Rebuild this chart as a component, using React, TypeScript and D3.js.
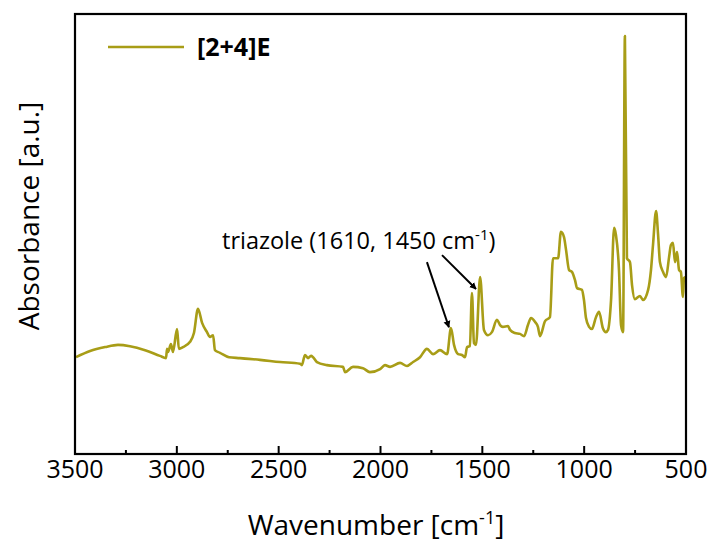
import React from "react";
import * as d3 from "d3";

const wavenumbers = [
  3495, 3426, 3352, 3289, 3230, 3156, 3083, 3053, 3048, 3043, 3029, 3019, 2999, 2990, 2970, 2935,
  2916, 2896, 2876, 2852, 2837, 2822, 2813, 2788, 2744, 2690, 2592, 2493, 2395, 2386, 2371, 2356,
  2341, 2331, 2312, 2263, 2184, 2174, 2135, 2086, 2052, 2002, 1978, 1953, 1904, 1870, 1840, 1806,
  1772, 1742, 1708, 1673, 1654, 1639, 1619, 1600, 1585, 1575, 1561, 1551, 1541, 1531, 1511, 1492,
  1472, 1453, 1428, 1413, 1399, 1374, 1364, 1340, 1315, 1295, 1276, 1261, 1241, 1227, 1217, 1192,
  1168, 1153, 1128, 1114, 1099, 1089, 1074, 1060, 1045, 1035, 1011, 1001, 991, 976, 962, 942,
  927, 908, 893, 883, 868, 853, 844, 829, 819, 809, 800, 790, 775, 765, 751, 726,
  711, 686, 672, 662, 647, 637, 628, 613, 598, 583, 574, 564, 554, 544, 534, 525,
  515, 510, 500,
];

const absorbance = [
  0.220, 0.234, 0.243, 0.248, 0.245, 0.236, 0.223, 0.218, 0.239, 0.232, 0.250, 0.232, 0.284, 0.239, 0.243, 0.255,
  0.275, 0.330, 0.298, 0.277, 0.266, 0.270, 0.236, 0.230, 0.220, 0.218, 0.214, 0.209, 0.205, 0.202, 0.225, 0.218,
  0.223, 0.220, 0.209, 0.202, 0.198, 0.186, 0.198, 0.195, 0.186, 0.193, 0.202, 0.198, 0.207, 0.200, 0.209, 0.220,
  0.239, 0.227, 0.236, 0.227, 0.286, 0.248, 0.227, 0.225, 0.220, 0.243, 0.245, 0.366, 0.252, 0.248, 0.402, 0.282,
  0.270, 0.277, 0.305, 0.293, 0.289, 0.291, 0.282, 0.275, 0.273, 0.268, 0.293, 0.309, 0.300, 0.289, 0.268, 0.302,
  0.311, 0.445, 0.445, 0.505, 0.493, 0.464, 0.418, 0.414, 0.395, 0.377, 0.373, 0.350, 0.309, 0.289, 0.284, 0.311,
  0.323, 0.286, 0.277, 0.282, 0.350, 0.514, 0.498, 0.418, 0.293, 0.277, 0.950, 0.445, 0.436, 0.384, 0.352, 0.359,
  0.350, 0.373, 0.418, 0.475, 0.552, 0.498, 0.436, 0.414, 0.402, 0.448, 0.475, 0.480, 0.436, 0.459, 0.418, 0.414,
  0.357, 0.400, 0.402,
];

const majorTicks = [3500, 3000, 2500, 2000, 1500, 1000, 500];
const minorTicks = [3250, 2750, 2250, 1750, 1250, 750];

const seriesName = "[2+4]E";
const annotationText = "triazole (1610, 1450 cm";
// arrow [tailWavenumber, tailAbs, tipWavenumber, tipAbs]
const arrows = [
  [1772, 0.436, 1664, 0.288],
  [1698, 0.452, 1531, 0.375],
];

const W = 711;
const H = 547;
const M = { left: 75, right: 686, top: 14, bottom: 454 };
const FONT = "'Open Sans', sans-serif";
const LINE_COLOR = "#A89D17";

export default function App() {
  const x = d3.scaleLinear().domain([3500, 500]).range([M.left, M.right]);
  const y = d3.scaleLinear().domain([0, 1]).range([M.bottom, M.top]);
  const data = wavenumbers.map((w, i) => [w, absorbance[i]] as [number, number]);
  const line = d3
    .line<[number, number]>()
    .x((d) => x(d[0]))
    .y((d) => y(d[1]))
    .curve(d3.curveMonotoneX);

  return (
    <svg
      width={W}
      height={H}
      style={{ position: "absolute", left: 0, top: 0, background: "#fff" }}
      fontFamily={FONT}
    >
      <defs>
        <marker
          id="arrowhead"
          viewBox="0 0 10 10"
          refX="9"
          refY="5"
          markerWidth="7"
          markerHeight="8"
          orient="auto"
          markerUnits="userSpaceOnUse"
        >
          <path d="M0,0 L10,5 L0,10 z" fill="#000" />
        </marker>
      </defs>
      <rect x={0} y={0} width={W} height={H} fill="#fff" />
      <path d={line(data) ?? ""} fill="none" stroke={LINE_COLOR} strokeWidth={2.6} strokeLinejoin="round" />

      {/* frame */}
      <rect
        x={M.left}
        y={M.top}
        width={M.right - M.left}
        height={M.bottom - M.top}
        fill="none"
        stroke="#000"
        strokeWidth={2.2}
      />

      {majorTicks.map((t) => (
        <g key={"M" + t}>
          <line x1={x(t)} x2={x(t)} y1={M.bottom} y2={M.bottom - 8} stroke="#000" strokeWidth={2} />
          <text x={x(t)} y={478} textAnchor="middle" fontSize={25} fill="#000">
            {t}
          </text>
        </g>
      ))}
      {minorTicks.map((t) => (
        <line key={"m" + t} x1={x(t)} x2={x(t)} y1={M.bottom} y2={M.bottom - 4} stroke="#000" strokeWidth={2} />
      ))}

      <text x={376} y={535} textAnchor="middle" fontSize={28} fill="#000">
        Wavenumber [cm<tspan dy={-11} fontSize={18}>-1</tspan>
        <tspan dy={11}>]</tspan>
      </text>
      <text
        transform={`translate(39,216) rotate(-90)`}
        textAnchor="middle"
        fontSize={28}
        fill="#000"
      >
        Absorbance [a.u.]
      </text>

      {/* legend */}
      <line x1={108} x2={184} y1={47} y2={47} stroke={LINE_COLOR} strokeWidth={2.6} />
      <text x={197} y={56} fontSize={25} fontWeight="bold" fill="#000">
        {seriesName}
      </text>

      {/* annotation */}
      <text x={222} y={249} fontSize={23.5} fill="#000">
        {annotationText}
        <tspan dy={-9} fontSize={15}>-1</tspan>
        <tspan dy={9}>)</tspan>
      </text>
      {arrows.map((a, i) => (
        <line
          key={i}
          x1={x(a[0])}
          y1={y(a[1])}
          x2={x(a[2])}
          y2={y(a[3])}
          stroke="#000"
          strokeWidth={2}
          markerEnd="url(#arrowhead)"
        />
      ))}
    </svg>
  );
}
